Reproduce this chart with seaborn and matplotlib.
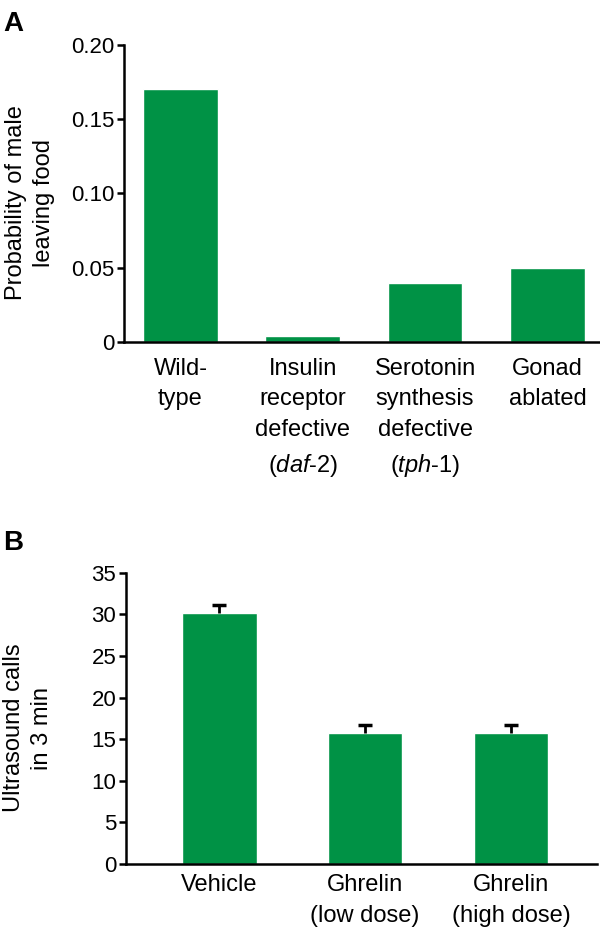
import matplotlib
matplotlib.use("Agg")
import matplotlib.pyplot as plt
import seaborn as sns

# ---- data ----
a_categories = ["Wild-type", "Insulin receptor defective", "Serotonin synthesis defective", "Gonad ablated"]
a_labels = ["Wild-\ntype",
            "Insulin\nreceptor\ndefective\n($\\mathit{daf}$-$\\mathit{2}$)",
            "Serotonin\nsynthesis\ndefective\n($\\mathit{tph}$-$\\mathit{1}$)",
            "Gonad\nablated"]
a_values = [0.17, 0.004, 0.04, 0.05]
a_ticks = [0, 0.05, 0.10, 0.15, 0.20]
a_ticklabels = ["0", "0.05", "0.10", "0.15", "0.20"]

b_categories = ["Vehicle", "Ghrelin low", "Ghrelin high"]
b_labels = ["Vehicle", "Ghrelin\n(low dose)", "Ghrelin\n(high dose)"]
b_values = [30.2, 15.8, 15.8]
b_errors = [0.9, 0.9, 0.9]
b_ticks = [0, 5, 10, 15, 20, 25, 30, 35]

GREEN = "#009245"

sns.set_style("white")
plt.rcParams["font.family"] = ["Liberation Sans", "DejaVu Sans"]
plt.rcParams["mathtext.fontset"] = "custom"
plt.rcParams["mathtext.rm"] = "Liberation Sans"
plt.rcParams["mathtext.it"] = "Liberation Sans:italic"
for key in ["text.color", "axes.labelcolor", "xtick.color", "ytick.color"]:
    plt.rcParams[key] = "black"

fig = plt.figure(figsize=(6, 9.3), dpi=100)
ax_a = fig.add_axes([0.207, 0.632, 0.793, 0.320])
ax_b = fig.add_axes([0.210, 0.071, 0.785, 0.313])


def style_axis(ax):
    sns.despine(ax=ax)
    for side in ["left", "bottom"]:
        ax.spines[side].set_linewidth(1.8)
        ax.spines[side].set_color("black")
    ax.tick_params(axis="y", direction="out", length=5, width=1.8, labelsize=16, pad=2, left=True)
    ax.tick_params(axis="x", length=0, labelsize=17)


# ---- panel A ----
sns.barplot(x=a_categories, y=a_values, color=GREEN, width=0.61, saturation=1,
            errorbar=None, ax=ax_a)
ax_a.set_xlim(-0.46, 3.43)
ax_a.set_ylim(0, 0.20)
ax_a.set_yticks(a_ticks)
ax_a.set_yticklabels(a_ticklabels)
ax_a.set_xticks(range(len(a_labels)))
ax_a.set_xticklabels(a_labels, va="top")
ax_a.set_ylabel("Probability of male\nleaving food", fontsize=17, linespacing=1.35)
ax_a.yaxis.set_label_coords(-0.145, 0.468)
style_axis(ax_a)
ax_a.tick_params(axis="x", pad=11)
for t in ax_a.get_xticklabels():
    t.set_linespacing(1.52)

# ---- panel B ----
sns.barplot(x=b_categories, y=b_values, color=GREEN, width=0.51, saturation=1,
            errorbar=None, ax=ax_b)
_, caps, _ = ax_b.errorbar(range(len(b_values)), b_values,
                           yerr=[[0] * len(b_errors), b_errors],
                           fmt="none", ecolor="black", elinewidth=2, capsize=5, capthick=2.5)
caps[0].remove()  # only the upper cap is shown
ax_b.set_xlim(-0.64, 2.59)
ax_b.set_ylim(0, 35)
ax_b.set_yticks(b_ticks)
ax_b.set_xticks(range(len(b_labels)))
ax_b.set_xticklabels(b_labels, va="top")
ax_b.set_ylabel("Ultrasound calls\nin 3 min", fontsize=17, linespacing=1.35)
ax_b.yaxis.set_label_coords(-0.155, 0.467)
style_axis(ax_b)
ax_b.tick_params(axis="x", pad=7)
for t in ax_b.get_xticklabels():
    t.set_linespacing(1.52)

# panel letters
fig.text(0.005, 0.988, "A", fontsize=20, fontweight="bold", va="top", ha="left")
fig.text(0.005, 0.430, "B", fontsize=20, fontweight="bold", va="top", ha="left")

fig.savefig("out.png", dpi=100)
